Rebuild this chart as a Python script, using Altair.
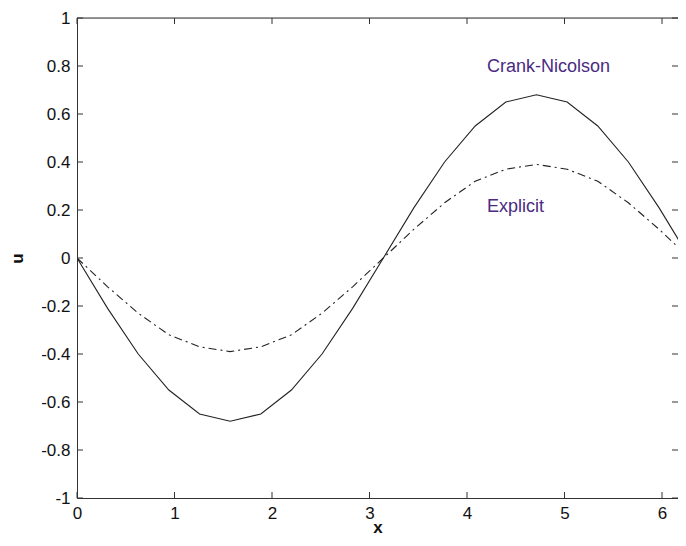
import altair as alt
import pandas as pd

# x grid (k*pi/10, k = 0..20)
x_vals = [0.0, 0.314, 0.628, 0.942, 1.257, 1.571, 1.885, 2.199, 2.513, 2.827,
          3.142, 3.456, 3.770, 4.084, 4.398, 4.712, 5.027, 5.341, 5.655, 5.969, 6.283]
crank_nicolson = [0.0, -0.21, -0.40, -0.55, -0.65, -0.68, -0.65, -0.55, -0.40, -0.21,
                  0.0, 0.21, 0.40, 0.55, 0.65, 0.68, 0.65, 0.55, 0.40, 0.21, 0.0]
explicit = [0.0, -0.12, -0.23, -0.32, -0.37, -0.39, -0.37, -0.32, -0.23, -0.12,
            0.0, 0.12, 0.23, 0.32, 0.37, 0.39, 0.37, 0.32, 0.23, 0.12, 0.0]

x_ticks = [0, 1, 2, 3, 4, 5, 6]
y_ticks = [-1, -0.8, -0.6, -0.4, -0.2, 0, 0.2, 0.4, 0.6, 0.8, 1]

label_text = ["Crank-Nicolson", "Explicit"]
label_x = [4.205, 4.205]
label_y = [0.796, 0.212]

W, H = 601, 480
X_DOMAIN = [0, 6.164]   # plot area runs past the visible right edge
Y_DOMAIN = [-1, 1]

FONT = "Arial, Liberation Sans, sans-serif"

cn_df = pd.DataFrame({"x": x_vals, "u": crank_nicolson})
ex_df = pd.DataFrame({"x": x_vals, "u": explicit})
lab_df = pd.DataFrame({"t": label_text, "x": label_x, "u": label_y})
xt_df = pd.DataFrame({"x": x_ticks})
yt_df = pd.DataFrame({"u": y_ticks})

xs = alt.Scale(domain=X_DOMAIN, nice=False, zero=False)
ys = alt.Scale(domain=Y_DOMAIN, nice=False, zero=False)

x_axis = alt.Axis(values=x_ticks, title="x", tickSize=0, labelPadding=7, labelFlush=False,
                  grid=False, domainColor="#333", labelFont=FONT,
                  labelFontSize=17, labelColor="#111", labelExpr="toString(datum.value)",
                  titleFont=FONT, titleFontSize=17,
                  titleFontWeight="bold", titleColor="#111",
                  titleY=34, titleBaseline="alphabetic")
y_axis = alt.Axis(values=y_ticks, title="u", tickSize=0, labelPadding=7, labelFlush=False,
                  grid=False, domainColor="#333", labelFont=FONT,
                  labelFontSize=17, labelColor="#111", labelExpr="toString(datum.value)",
                  titleFont=FONT, titleFontSize=17,
                  titleFontWeight="bold", titleColor="#111", titlePadding=14)

cn = alt.Chart(cn_df).mark_line(color="#222", strokeWidth=1.1, clip=True).encode(
    x=alt.X("x:Q", scale=xs, axis=x_axis),
    y=alt.Y("u:Q", scale=ys, axis=y_axis),
)
ex = alt.Chart(ex_df).mark_line(color="#222", strokeWidth=1.1, strokeDash=[8, 4, 2, 4],
                                clip=True).encode(
    x=alt.X("x:Q", scale=xs),
    y=alt.Y("u:Q", scale=ys),
)
labels = alt.Chart(lab_df).mark_text(align="left", baseline="middle", font=FONT,
                                     fontSize=18, color="#4b2a82").encode(
    x=alt.X("x:Q", scale=xs), y=alt.Y("u:Q", scale=ys), text="t:N")

tick_len = 6
y_left = alt.Chart(yt_df).mark_rule(color="#333").encode(
    y=alt.Y("u:Q", scale=ys), x=alt.value(0), x2=alt.value(tick_len))
y_right = alt.Chart(yt_df).mark_rule(color="#333").encode(
    y=alt.Y("u:Q", scale=ys), x=alt.value(W - tick_len), x2=alt.value(W))
x_bot = alt.Chart(xt_df).mark_rule(color="#333").encode(
    x=alt.X("x:Q", scale=xs), y=alt.value(H - tick_len), y2=alt.value(H))
x_top = alt.Chart(xt_df).mark_rule(color="#333").encode(
    x=alt.X("x:Q", scale=xs), y=alt.value(0), y2=alt.value(tick_len))
top_border = alt.Chart(xt_df.head(1)).mark_rule(color="#333").encode(
    x=alt.value(0), x2=alt.value(W), y=alt.value(0))

chart = alt.layer(cn, ex, labels, y_left, y_right, x_bot, x_top, top_border).properties(
    width=W, height=H,
    autosize=alt.AutoSizeParams(type="none"),
    padding={"left": 69, "top": 10, "right": 0, "bottom": 40},
).configure_view(stroke=None).configure(background="white")

chart.save("out.html", embed_options={"renderer": "svg", "actions": False})
